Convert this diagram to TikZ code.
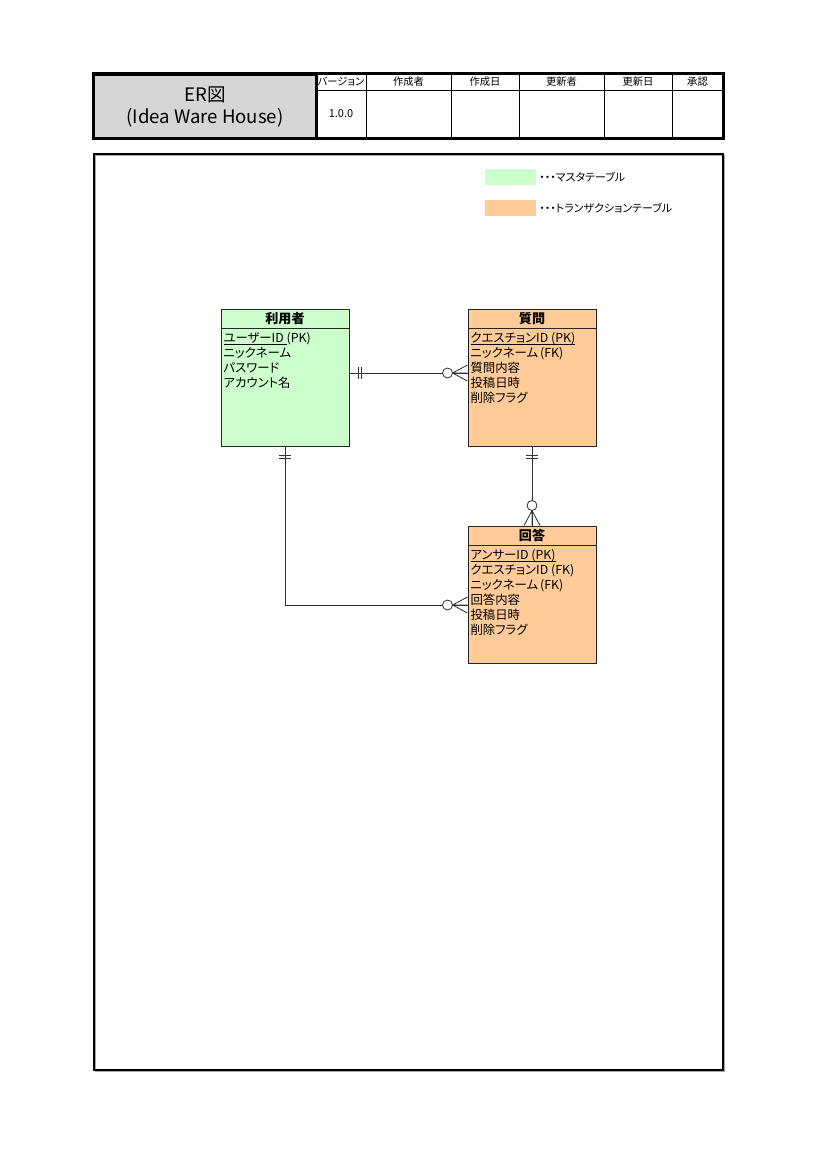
\documentclass[tikz,border=0pt]{standalone}
\usepackage{fontspec}
\setmainfont{Noto Sans CJK JP}[RawFeature=+palt]
\usetikzlibrary{positioning}
\definecolor{mastergreen}{HTML}{CCFFCC}
\definecolor{transorange}{HTML}{FFCC99}
\definecolor{headgray}{HTML}{D6D6D6}
\newcommand{\px}{0.7269pt}
% underline close to the text (primary keys)
\newcommand{\keyline}[1]{\setbox0\hbox{#1}\rlap{\rule[-2pt]{\wd0}{0.5pt}}\box0}

\begin{document}
\begin{tikzpicture}[
    x=\px, y=-\px, % one unit = one pixel of the page
    rel/.style={draw=black!80, line width=0.6pt}, % relation lines
    entity/.style={draw=black!85, line width=0.7pt, minimum width=128*\px, minimum height=137*\px, inner sep=0pt}, % entity box
    master/.style={entity, fill=mastergreen}, % master table
    trans/.style={entity, fill=transorange}, % transaction table
    etitle/.style={draw=black!85, line width=0.7pt, minimum width=128*\px, minimum height=19.5*\px, inner sep=0pt, font=\fontsize{9.5}{11}\selectfont\bfseries},
    attrs/.style={align=left, inner sep=0pt, font=\fontsize{9}{11}\selectfont},
    headcell/.style={draw, line width=0.5pt, minimum height=16*\px, inner sep=0pt, font=\fontsize{7.5}{8}\selectfont},
    bodycell/.style={draw, line width=0.5pt, minimum height=48*\px, inner sep=0pt},
    legendkey/.style={minimum width=51*\px, minimum height=16*\px, inner sep=0pt},
    legendtext/.style={inner sep=0pt, font=\fontsize{8}{9}\selectfont},
    onemark/.pic={\draw[rel] (9,-6) -- (9,6) (12,-6) -- (12,6);}, % exactly one
    zeromany/.pic={\draw[rel] (0,-8) -- (15,0) -- (0,8) (0,0) -- (15,0);
                   \draw[rel, fill=white] (20,0) circle[radius=5*\px];} % zero or many
    ]
\useasboundingbox (0,0) rectangle (819,1158);

% header
\node[fill=headgray, draw, line width=0.5pt, minimum width=222*\px, minimum height=64*\px, inner sep=0pt,
      align=center, font=\fontsize{13.5}{15.5}\selectfont] (titlecell) at (205,107) {ER図\\(Idea Ware House)};
\foreach \xl/\xr/\lbl [count=\i] in {316/366/バージョン, 366/451/作成者, 451/519/作成日, 519/604/更新者, 604/672/更新日, 672/723/承認} {
    \node[headcell, minimum width=(\xr-\xl)*\px] (head\i) at ({(\xl+\xr)/2},82) {\lbl};
    \node[bodycell, minimum width=(\xr-\xl)*\px] (body\i) at ({(\xl+\xr)/2},114) {};
}
\node[inner sep=0pt, font=\fontsize{8}{9}\selectfont] (version) at (body1) {1.0.0};
\draw[line width=1.8pt] (titlecell.north west |- head1.north) rectangle (body6.south east);
\draw[line width=1.8pt] (titlecell.north east |- head1.north) -- (titlecell.east |- body1.south);

% sheet frame
\draw[black!35, line width=0.9pt] (95.5,155.5) rectangle (724.5,1071.5);
\draw[line width=0.9pt] (94,154) rectangle (723,1070);

% legend
\node[legendkey, fill=mastergreen] (masterkey) at (510.5,177) {};
\node[legendtext, right=2pt of masterkey] (masterlabel) {・・・マスタテーブル};
\node[legendkey, fill=transorange] (transkey) at (510.5,208) {};
\node[legendtext, right=2pt of transkey] (translabel) {・・・トランザクションテーブル};

% entities
\node[master] (user) at (285,377.5) {};
\node[etitle, below=0pt of user.north] (usertitle) {利用者};
\node[attrs, below right=2pt and 2pt of usertitle.south west] (userattrs)
    {\keyline{ユーザーID\ }(PK)\\ニックネーム\\パスワード\\アカウント名};

\node[trans] (question) at (532,377.5) {};
\node[etitle, below=0pt of question.north] (questiontitle) {質問};
\node[attrs, below right=2pt and 2pt of questiontitle.south west] (questionattrs)
    {\keyline{クエスチョンID (PK)}\\ニックネーム\,(FK)\\質問内容\\投稿日時\\削除フラグ};

\node[trans] (answer) at (532,594.5) {};
\node[etitle, below=0pt of answer.north] (answertitle) {回答};
\node[attrs, below right=2pt and 2pt of answertitle.south west] (answerattrs)
    {\keyline{アンサーID (PK)}\\クエスチョンID (FK)\\ニックネーム\,(FK)\\回答内容\\投稿日時\\削除フラグ};

% relations
\coordinate (uq1) at (user.east |- 0,373);
\coordinate (uq2) at (question.west |- 0,373);
\coordinate (ua) at (answer.west |- 0,605);
\draw[rel] (uq1) -- (uq2);
\draw[rel] (user.south) |- (ua);
\draw[rel] (question.south) -- (answer.north);
\pic at (uq1) {onemark};
\pic[rotate=180] at (uq2) {zeromany};
\pic[rotate=-90] at (user.south) {onemark};
\pic[rotate=180] at (ua) {zeromany};
\pic[rotate=-90] at (question.south) {onemark};
\pic[rotate=90] at (answer.north) {zeromany};
\end{tikzpicture}
\end{document}
